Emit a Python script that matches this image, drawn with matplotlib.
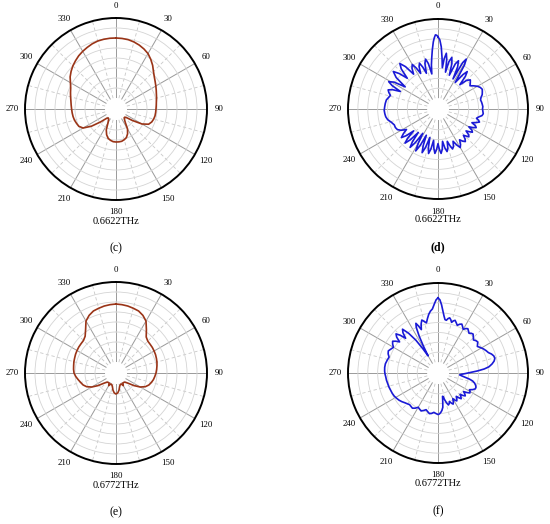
import numpy as np
import matplotlib
matplotlib.use("Agg")
import matplotlib.pyplot as plt

# radiation patterns (angle in deg, level in dB)
# red panels are read every 5 deg
c_theta = np.arange(0, 365, 5)
c_level = [-10, -10.1, -10.3, -10.8, -11.5, -12.4, -13.5, -15.2, -17, -19, -20.5, -21.6,
           -22.5, -23.3, -24, -24.5, -25, -25.3, -25.5, -25.6, -25.7, -26, -26.5, -27.5,
           -30.5, -35.5, -39, -39.7, -39, -37.5, -34, -31.8, -30.3, -29.6, -29.1, -29,
           -29, -29.1, -29.6, -30.3, -31.8, -34, -37.5, -39, -39.7, -39, -35.5, -30.5,
           -26.5, -25, -24.5, -24, -23.7, -23.5, -23.3, -23, -22.6, -22, -21.3, -20.5,
           -19.2, -17.5, -16.2, -15, -14, -13, -12.2, -11.5, -10.8, -10.3, -10.1, -10, -10]

e_theta = np.arange(0, 365, 5)
e_level = [-11, -11.2, -11.5, -12, -12.5, -13.7, -15.5, -19, -22, -23, -23.2, -23.3, -23.5,
           -23.7, -24, -24.3, -24.7, -25.1, -25.5, -26, -26.5, -27.2, -28, -29.3, -31.5,
           -34.5, -37.5, -39, -39.4, -39.5, -38.2, -39.5, -39.3, -38.5, -36.8, -35.5, -35,
           -35.5, -36.8, -38.5, -39.3, -39.5, -38.2, -39.5, -39.4, -39, -37.5, -34.5, -31.5,
           -29.3, -28, -27.2, -26.3, -25.3, -24.5, -24.2, -24, -23.7, -23.5, -23.2, -23,
           -22.8, -22.7, -22.5, -21.5, -19, -15.5, -13.7, -12.5, -12, -11.5, -11.2, -11]

d_theta = [0, 1.5, 3, 4.5, 6, 7, 8.5, 10, 11.5, 13, 15, 17, 18.5, 21, 23, 25, 26.5, 28, 29.5,
           31, 33, 36, 38, 40, 42, 45, 48, 51, 54, 57, 60, 63, 66, 69, 72, 75, 78, 81, 84,
           87, 90, 93, 96, 98.5, 101, 103.5, 105.5, 107.5, 109.5, 112, 114, 116, 118, 120,
           122, 124, 126, 128, 130, 132, 134, 136, 138, 140, 142.5, 145, 147.5, 150, 152.5,
           155, 157.5, 160, 162, 164, 166, 168, 170, 172, 174, 176, 178, 180, 182, 184, 186,
           188, 190, 192, 194, 196, 198, 200, 202, 204, 206, 208, 210, 212, 214, 216, 218,
           220, 222, 224, 226, 228, 230, 232, 234.5, 237, 240, 243, 246.5, 250, 254, 258,
           261.5, 265, 268.5, 272, 276, 280, 283, 286, 288.5, 291, 293, 295, 297, 299, 301.5,
           304, 307, 310, 312.5, 315, 317.5, 320, 322.5, 325, 327.5, 330, 332, 334, 336, 338,
           340, 342, 344, 346, 348, 350, 351.5, 353, 354.5, 356, 357, 358, 359, 360]
d_level = [-9, -10.5, -14, -19.5, -24.5, -20, -17, -20, -26.5, -21, -18.5, -21.5, -27.5, -21,
           -19, -22, -28.5, -19, -16.5, -19.5, -29.5, -24, -21.5, -24, -29, -25, -23.5, -24.5,
           -25.5, -24, -22.5, -21.5, -21, -21.5, -22, -23, -23.5, -23.2, -23, -22.8, -23,
           -22.8, -22.5, -23, -24.5, -25.5, -24.3, -23.5, -25, -27, -24.8, -24, -25.5, -27.5,
           -25.3, -24.5, -26, -27.5, -25.3, -24.5, -25.8, -27, -25, -24, -25, -26.5, -24.3,
           -23, -25, -27.5, -25, -24, -26, -28.5, -25, -23.5, -25.5, -29, -25, -23, -25, -28,
           -25, -23, -25.5, -29.5, -25, -22.5, -25.5, -30.5, -25, -22, -25.5, -31, -25, -21.5,
           -25.5, -31, -25, -21.5, -24.5, -30, -24.5, -21.5, -24, -29, -24.5, -22, -24,
           -26.5, -24, -22.5, -22, -22, -21, -19.5, -18.8, -18.5, -18.3, -18.5, -18.7, -19,
           -19.8, -20.5, -19.3, -18.5, -20.5, -24.5, -19.5, -17, -19.5, -25.5, -19, -16, -19,
           -23.5, -18, -15.5, -18.5, -24, -21, -19.5, -22, -25.5, -22, -20.5, -23, -26.5,
           -21.5, -19.5, -22, -27.5, -23, -19.5, -15.5, -11.5, -9.5, -8, -8.2, -9]

f_theta = [0, 1.5, 3, 4.5, 6, 7.5, 9, 10.5, 12, 13.5, 15, 16.5, 18, 20, 22, 24, 26, 28, 30,
           32, 34, 36, 38, 40, 42, 44.5, 47, 49.5, 52, 54, 56, 59, 62, 65, 68, 70.5, 73, 75.5,
           78, 80.5, 83, 85, 87, 89, 91, 93, 95, 97, 99, 101, 103, 105.5, 108, 110.5, 113,
           115.5, 118, 120, 122, 124, 126, 128, 130, 132, 134, 136, 138, 140, 142, 144, 146,
           148, 150, 152, 154, 156, 158, 160, 162, 164, 166, 167.5, 169, 170.5, 172, 174, 176,
           178, 180, 183, 186, 189, 192, 195, 198, 201, 204, 207, 210, 213, 216, 219, 222,
           225, 228, 231.5, 235, 238.5, 242, 246, 250, 254, 258, 262, 266, 269, 272, 276, 280,
           284, 288, 291, 294, 297, 300, 302.5, 305, 307, 309, 311, 313, 315, 317, 319, 321,
           323.5, 326, 328, 330, 331.5, 333, 334.5, 336, 337.5, 339, 341, 343, 345, 347, 349,
           351, 353, 355, 357, 358.5, 360]
f_level = [-7.5, -8.5, -11, -14, -16.5, -18.3, -18.5, -17.5, -17, -17.8, -19, -18, -17.5,
           -18.5, -19.5, -18.5, -18, -19, -20, -19, -18.5, -19.3, -20, -19.3, -19, -20, -21,
           -20.3, -20, -20.8, -21.5, -20.5, -19.5, -18.7, -18, -16.8, -16, -15.8, -16.5,
           -17.8, -19.5, -22, -25.5, -29, -31.5, -33.5, -34.5, -33.3, -31.5, -29.3, -27.5,
           -26.3, -25.5, -25, -25, -26, -27.5, -26.8, -26.5, -27.8, -29.5, -28.3, -27.5,
           -28.5, -30, -28.8, -28, -29.2, -30.5, -29.3, -28.5, -29.3, -30.5, -29, -28, -28.8,
           -30, -29, -28.5, -29.8, -31.5, -33, -33.5, -31, -28, -26.5, -25.5, -24.8, -24.5,
           -25, -25.5, -24.8, -24.5, -25.3, -26, -25.2, -24.5, -25, -25.5, -24.3, -23.5,
           -23.8, -24, -23.5, -23, -22.2, -21.5, -21, -20.5, -20.2, -20, -19.7, -19.5, -19.2,
           -19, -18.7, -18.5, -18.4, -18.5, -19, -19.5, -18.5, -18, -18.8, -19.5, -18.3,
           -17.5, -18.8, -20.5, -17.8, -16.5, -18.5, -21.5, -18.5, -17, -20.5, -25.5, -31,
           -35.5, -30, -24.5, -20, -18, -19.8, -22, -19.3, -17.5, -18.5, -19.5, -17.5, -15.5,
           -14, -13, -10.5, -8.5, -7.5]

panels = [
    # (theta, level, colour, freq label, panel tag, bold, [left, top, w, h] in px)
    (c_theta, c_level, "#9a3417", "0.6622THz", "(c)", False, [25, 18, 182, 182]),
    (d_theta, d_level, "#1a1ad6", "0.6622THz", "(d)", True, [348, 19, 180, 180]),
    (e_theta, e_level, "#9a3417", "0.6772THz", "(e)", False, [25, 282, 182, 182]),
    (f_theta, f_level, "#1a1ad6", "0.6772THz", "(f)", False, [348, 283, 180, 180]),
]

W, H = 550, 524
serif = "Liberation Serif"

fig = plt.figure(figsize=(W / 100, H / 100), dpi=100)
fig.patch.set_facecolor("white")

for theta, level, color, freq, tag, bold, box in panels:
    x0, y0, w, h = box
    ax = fig.add_axes([x0 / W, 1 - (y0 + h) / H, w / W, h / H], projection="polar")
    ax.set_theta_zero_location("N")
    ax.set_theta_direction(-1)
    ax.set_ylim(-40, 0)
    ax.set_rorigin(-45.5)

    ax.set_yticks(np.arange(-35, 0, 5))
    ax.set_yticklabels([])
    ax.yaxis.grid(True, color="#d4d4d4", linewidth=0.6)

    ax.set_xticks(np.deg2rad(np.arange(0, 360, 30)))
    ax.set_xticklabels([str(a) for a in range(0, 360, 30)], fontfamily=serif, fontsize=6.3)
    ax.set_xticks(np.deg2rad(np.arange(15, 360, 30)), minor=True)
    ax.xaxis.grid(True, which="major", color="#9a9a9a", linewidth=0.7)
    ax.xaxis.grid(True, which="minor", color="#c8c8c8", linewidth=0.6, linestyle=(0, (4, 3)))
    ax.tick_params(axis="x", which="both", length=0, pad=2)

    ax.spines["polar"].set_linewidth(1.4)
    ax.spines["polar"].set_color("black")
    # polar axes re-enable the inner spine at draw time, so just make it invisible
    ax.spines["inner"].set_linewidth(0)
    ax.spines["inner"].set_edgecolor("none")

    ax.plot(np.deg2rad(theta), level, color=color, linewidth=1.2,
            solid_joinstyle="round")

    cx = (x0 + w / 2) / W
    fig.text(cx, 1 - (y0 + h + 21) / H, freq, ha="center", va="center",
             fontfamily=serif, fontsize=7.5)
    fig.text(cx, 1 - (y0 + h + 48) / H, tag, ha="center", va="center",
             fontfamily=serif, fontsize=8.5, fontweight="bold" if bold else "normal")

fig.savefig("out.png", dpi=100, facecolor="white")
